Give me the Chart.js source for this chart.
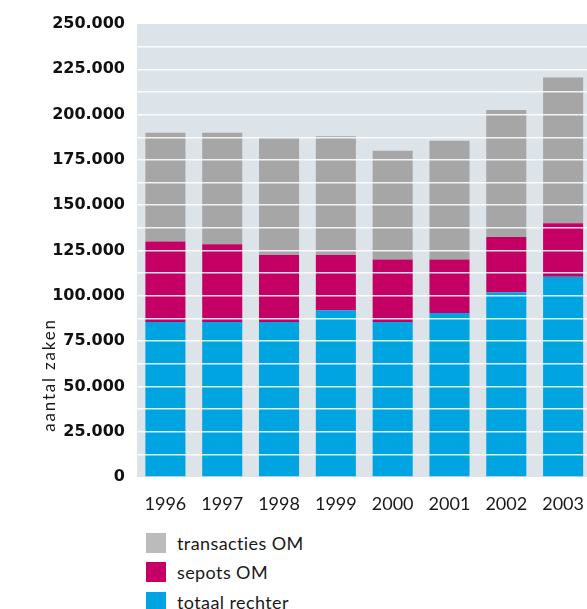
<!DOCTYPE html>
<html>
<head>
<meta charset="utf-8">
<script src="https://cdn.jsdelivr.net/npm/chart.js@4"></script>
<style>
    body { margin: 0; overflow: hidden; background: #fff; width: 587px; height: 609px; position: relative; }
    canvas { display: block; }
    #legend { position: absolute; left: 146px; top: 528px; font: 18px Lato, sans-serif; letter-spacing: 0.4px; color: #1a1a1a; }
    .item { display: flex; align-items: center; height: 29.5px; }
    .box { width: 20px; height: 20px; margin-right: 11px; }
</style>
</head>
<body>
<canvas id="myChart" width="592" height="520"></canvas>
<div id="legend"></div>
<script>
const years = ["1996", "1997", "1998", "1999", "2000", "2001", "2002", "2003"];
const totaalRechter = [85500, 85500, 85500, 92000, 85500, 90500, 102000, 110500];
const sepotsOM = [44500, 43000, 37000, 30500, 34500, 29500, 30500, 29500];
const transactiesOM = [60000, 61500, 65000, 65500, 60000, 65500, 70000, 80500];
const seriesNames = ["totaal rechter", "sepots OM", "transacties OM"];
const barColors = ["#00a4e0", "#c50065", "#a6a6a6"];
const legendColors = ["#00a4e0", "#c50065", "#bbbbbb"];

const chart = document.getElementById('myChart');

function dots(v) {
    return String(v).replace(/\B(?=(\d{3})+(?!\d))/g, '.');
}

const plotBg = {
    id: 'plotBg',
    beforeDraw(c) {
        const a = c.chartArea;
        c.ctx.save();
        c.ctx.fillStyle = "#dce3e9";
        c.ctx.fillRect(a.left, a.top, a.right - a.left, a.bottom - a.top);
        c.ctx.restore();
    },
    afterDraw(c) {
        // y axis title sits low on the axis in the original
        const ctx = c.ctx;
        ctx.save();
        ctx.translate(50, c.chartArea.bottom - 102);
        ctx.rotate(-Math.PI / 2);
        ctx.font = "17px Lato";
        ctx.letterSpacing = "1.8px";
        ctx.fillStyle = "#1a1a1a";
        ctx.textAlign = "center";
        ctx.textBaseline = "middle";
        ctx.fillText("aantal zaken", 0, 0);
        ctx.restore();
    }
};

const myChart = new Chart(chart, {
    type: 'bar',
    data: {
        labels: years,
        datasets: [
            { label: seriesNames[0], data: totaalRechter, backgroundColor: barColors[0] },
            { label: seriesNames[1], data: sepotsOM, backgroundColor: barColors[1] },
            { label: seriesNames[2], data: transactiesOM, backgroundColor: barColors[2] },
        ]
    },
    options: {
        responsive: false,
        animation: false,
        layout: { padding: { top: 24, right: 0, bottom: 0, left: 0 } },
        datasets: { bar: { categoryPercentage: 1, barPercentage: 0.705 } },
        plugins: {
            legend: { display: false },
            tooltip: { enabled: false },
        },
        scales: {
            x: {
                stacked: true,
                grid: { display: false },
                border: { display: false },
                ticks: { color: "#1a1a1a", font: { family: "Lato", size: 18 }, padding: 8 },
                afterFit(s) { s.height = 43; },
            },
            y: {
                stacked: true,
                min: 0,
                max: 250000,
                border: { display: false },
                grid: {
                    z: 1,
                    drawTicks: false,
                    lineWidth: 1.5,
                    color: (ctx) => (ctx.tick && (ctx.tick.value === 0 || ctx.tick.value === 250000)) ? "rgba(0,0,0,0)" : "rgba(255,255,255,0.85)",
                },
                ticks: {
                    stepSize: 12500,
                    autoSkip: false,
                    padding: 12,
                    color: "#111",
                    font: { family: "DejaVu Sans", size: 16, weight: "bold" },
                    callback: (v) => (v % 25000 === 0) ? dots(v) : "",
                },
                afterFit(s) { s.width = 137; },
            }
        }
    },
    plugins: [plotBg]
});

// legend, top series first
const legend = document.getElementById('legend');
for (let i = seriesNames.length - 1; i >= 0; i--) {
    const row = document.createElement('div');
    row.className = 'item';
    row.innerHTML = '<span class="box" style="background:' + legendColors[i] + '"></span>' + seriesNames[i];
    legend.appendChild(row);
}
</script>
</body>
</html>
